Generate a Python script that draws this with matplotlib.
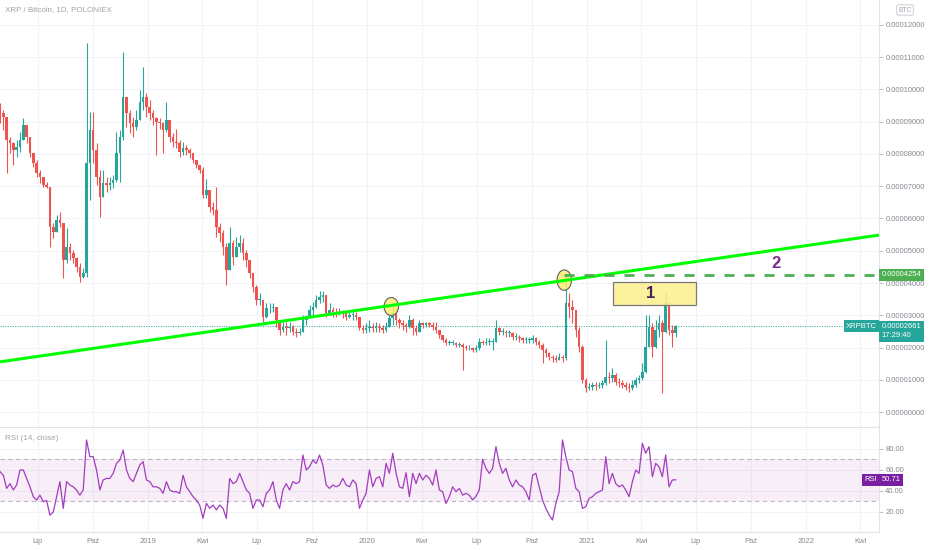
import numpy as np
import pandas as pd
import matplotlib
matplotlib.use('Agg')
import matplotlib.pyplot as plt
import matplotlib.dates as mdates
from matplotlib.patches import Ellipse, Rectangle
from matplotlib.ticker import FuncFormatter

plt.rcParams['font.family'] = ['Liberation Sans', 'DejaVu Sans']

# XRP/BTC, prices in millionths of a BTC, one candle per ~5.5 days
close_u = [
    92.6, 91.6, 84.3, 83.3, 81.2, 82.3, 84.3, 89.0, 85.4, 80.2,
    77.1, 74.0, 73.0, 70.4, 69.9, 57.5, 55.9, 59.5, 58.5, 47.1,
    51.3, 49.2, 47.6, 45.1, 42.0, 43.0, 77.1, 87.4, 81.2, 73.0,
    66.8, 70.9, 70.4, 70.9, 71.9, 80.2, 85.4, 97.8, 92.6, 89.5,
    88.5, 90.5, 96.2, 97.8, 94.7, 92.6, 91.1, 90.0, 89.5, 87.4,
    90.5, 85.4, 83.8, 83.3, 80.7, 81.8, 81.2, 80.2, 78.1, 76.6,
    75.0, 67.3, 68.8, 63.7, 62.6, 57.5, 55.4, 51.3, 44.1, 52.3,
    48.2, 51.3, 52.3, 49.2, 47.1, 43.0, 38.9, 34.7, 34.7, 29.5,
    32.1, 32.1, 32.6, 28.5, 25.4, 26.5, 25.9, 26.5, 24.9, 24.4,
    24.9, 28.5, 29.0, 31.6, 32.7, 34.7, 35.8, 36.3, 30.6, 31.6,
    31.1, 30.6, 31.1, 30.6, 29.6, 30.1, 30.1, 29.6, 25.9, 25.4,
    25.9, 26.5, 25.9, 26.5, 25.9, 25.4, 26.5, 29.0, 30.6, 28.5,
    27.5, 27.0, 26.5, 28.5, 25.9, 24.9, 27.5, 27.0, 27.5, 27.0,
    26.5, 25.4, 23.9, 22.3, 21.3, 21.3, 21.3, 20.8, 20.8, 20.3,
    19.7, 19.7, 19.2, 19.7, 21.8, 21.3, 21.8, 21.8, 21.8, 26.0,
    24.9, 24.9, 24.4, 24.4, 23.4, 23.4, 22.8, 22.3, 22.3, 22.3,
    22.8, 21.8, 20.8, 19.2, 18.2, 17.2, 16.6, 16.1, 17.2, 16.6,
    33.7, 32.7, 31.6, 25.4, 20.3, 9.9, 7.3, 7.8, 8.4, 8.1,
    8.4, 8.9, 11.0, 10.4, 11.5, 9.4, 8.9, 8.4, 7.8, 7.3,
    8.4, 9.9, 10.4, 12.5, 20.3, 26.5, 20.3, 25.4, 27.5, 24.9,
    33.7, 25.4, 24.4, 26.61,
]
high_u = [
    95.7, 93.6, 89.0, 85.4, 83.8, 84.3, 86.9, 91.1, 88.5, 84.3,
    80.2, 78.1, 75.0, 72.5, 71.4, 69.9, 58.5, 61.1, 62.1, 57.5,
    57.0, 52.3, 50.2, 48.2, 46.1, 44.5, 114.3, 93.1, 93.1, 83.3,
    75.0, 75.0, 73.0, 73.0, 73.5, 86.9, 87.4, 111.7, 97.8, 93.6,
    91.6, 93.6, 99.8, 107.1, 98.8, 96.7, 93.6, 91.6, 91.1, 90.0,
    96.2, 88.5, 86.4, 87.9, 84.3, 83.8, 82.8, 81.8, 79.7, 78.1,
    76.6, 76.1, 72.4, 67.8, 65.2, 69.9, 58.5, 56.4, 52.3, 57.5,
    53.3, 54.4, 54.9, 53.9, 50.2, 46.6, 42.0, 39.4, 36.8, 34.7,
    33.7, 33.7, 33.7, 32.6, 28.5, 28.0, 28.0, 28.0, 27.0, 25.9,
    25.9, 30.1, 30.1, 33.2, 34.2, 36.3, 37.6, 37.6, 36.3, 33.7,
    32.7, 32.1, 32.1, 31.6, 31.1, 31.1, 31.1, 31.1, 29.6, 27.0,
    27.5, 28.5, 27.5, 28.0, 27.5, 27.0, 28.0, 30.6, 33.7, 32.1,
    29.0, 28.5, 27.5, 30.1, 29.0, 27.0, 28.5, 28.0, 28.0, 28.0,
    28.0, 28.0, 25.4, 23.9, 22.8, 22.3, 22.3, 21.8, 21.8, 21.3,
    20.8, 20.8, 20.3, 20.8, 22.8, 22.3, 22.8, 22.8, 22.8, 28.5,
    26.5, 26.0, 25.4, 25.4, 24.9, 24.4, 23.9, 23.4, 23.4, 23.4,
    23.9, 23.4, 22.3, 21.3, 19.7, 18.7, 17.7, 17.7, 18.2, 17.7,
    42.5, 36.8, 34.7, 31.6, 26.5, 20.8, 10.4, 8.9, 9.4, 9.4,
    9.4, 9.9, 22.3, 12.5, 13.5, 12.0, 10.4, 9.9, 9.4, 8.9,
    9.9, 11.0, 11.5, 15.1, 30.1, 30.1, 27.5, 28.5, 30.1, 28.5,
    37.3, 31.6, 27.0, 27.0,
]
low_u = [
    89.5, 87.4, 74.0, 80.2, 76.6, 79.2, 80.7, 87.4, 83.3, 79.2,
    76.1, 73.0, 70.9, 69.9, 69.4, 51.3, 53.9, 55.9, 57.5, 41.5,
    46.1, 47.1, 46.1, 43.5, 40.4, 41.5, 42.0, 65.7, 77.1, 70.4,
    60.6, 66.8, 68.3, 68.8, 69.4, 71.4, 71.4, 84.3, 88.5, 86.4,
    85.4, 87.4, 90.5, 93.6, 91.6, 90.5, 89.0, 79.7, 87.9, 80.2,
    86.9, 83.8, 82.3, 81.8, 79.2, 79.7, 79.7, 78.7, 77.1, 75.6,
    74.0, 66.3, 66.3, 62.1, 61.1, 54.4, 52.8, 48.7, 39.4, 46.1,
    45.6, 48.2, 49.7, 47.1, 45.1, 41.5, 37.3, 33.2, 33.2, 28.0,
    29.0, 30.6, 31.1, 26.5, 23.9, 24.9, 23.9, 24.9, 23.9, 23.4,
    23.9, 25.4, 27.0, 29.0, 30.1, 32.1, 33.7, 34.2, 29.6, 30.1,
    29.6, 29.6, 30.1, 29.0, 28.5, 29.0, 28.5, 28.5, 25.4, 24.4,
    24.4, 24.9, 24.9, 24.9, 24.9, 24.4, 24.9, 26.5, 27.0, 27.0,
    25.9, 25.4, 24.9, 25.9, 23.9, 23.9, 24.9, 25.9, 26.5, 26.5,
    25.4, 24.4, 22.8, 21.8, 20.8, 20.8, 20.8, 20.3, 20.3, 13.0,
    19.2, 19.2, 18.7, 18.7, 19.2, 20.8, 20.8, 20.8, 19.2, 22.3,
    23.9, 23.9, 23.4, 23.4, 22.3, 22.3, 21.8, 21.3, 21.3, 21.3,
    21.3, 20.8, 19.7, 15.1, 17.2, 16.1, 15.6, 15.6, 16.1, 15.6,
    16.1, 29.0, 27.5, 23.4, 18.7, 8.9, 6.3, 6.8, 6.8, 6.8,
    7.3, 7.3, 8.4, 8.9, 9.4, 8.4, 7.8, 7.3, 6.8, 6.3,
    6.8, 7.8, 8.9, 9.9, 12.0, 21.3, 17.2, 19.7, 23.4, 5.8,
    24.4, 23.9, 20.3, 23.4,
]
first_open = 94.0

rsi_vals = [
    58.4, 55.0, 42.5, 47.0, 41.0, 45.7, 60.0, 60.0, 52.0, 44.0,
    34.6, 31.4, 36.0, 29.8, 31.0, 17.0, 20.0, 34.6, 48.9, 23.5,
    48.9, 45.7, 44.0, 41.0, 36.0, 41.0, 88.6, 72.7, 72.7, 60.0,
    41.0, 50.5, 52.0, 52.0, 56.8, 66.3, 69.5, 79.0, 60.0, 52.0,
    48.9, 56.8, 64.7, 67.9, 50.5, 48.9, 44.0, 44.0, 42.5, 37.8,
    48.9, 41.0, 39.3, 39.3, 37.8, 55.0, 44.0, 39.3, 34.6, 31.4,
    26.6, 14.0, 28.2, 23.5, 26.6, 21.9, 26.6, 23.5, 14.0, 52.0,
    47.0, 48.9, 56.8, 48.9, 41.0, 37.8, 23.5, 31.4, 31.4, 25.0,
    37.8, 41.0, 48.9, 31.4, 23.5, 41.0, 47.0, 41.0, 48.9, 47.0,
    48.9, 74.3, 60.0, 63.1, 69.5, 66.3, 74.3, 64.7, 45.7, 42.5,
    45.7, 44.0, 45.7, 52.0, 45.7, 44.0, 50.5, 47.0, 23.5, 31.4,
    37.8, 60.0, 44.0, 52.0, 53.6, 44.0, 66.3, 56.8, 75.9, 56.8,
    44.0, 42.5, 57.4, 34.6, 56.8, 47.0, 56.8, 50.5, 55.0, 52.0,
    45.7, 60.0, 41.0, 39.3, 28.2, 34.6, 44.0, 39.3, 42.5, 36.0,
    37.8, 36.0, 31.4, 35.0, 41.0, 70.0, 61.6, 56.8, 61.6, 82.2,
    66.3, 56.8, 61.6, 50.5, 44.0, 50.5, 45.7, 44.0, 39.3, 31.4,
    55.0, 56.8, 44.0, 31.4, 23.5, 17.0, 12.4, 28.2, 39.3, 88.6,
    72.7, 60.0, 58.4, 42.5, 39.3, 23.5, 25.0, 33.0, 34.6, 37.8,
    39.3, 41.0, 72.7, 47.0, 56.8, 47.0, 44.0, 45.7, 41.0, 34.6,
    48.9, 60.0, 56.8, 85.4, 75.9, 82.2, 53.6, 66.3, 63.1, 53.6,
    74.3, 44.0, 50.5, 50.71,
]

last_price = 26.61
last_rsi = 50.71
target_price = 42.54

trend_dates = ['2020-02-09', '2020-11-24']
trend_vals = [33.02, 40.78]
circle_dates = ['2020-02-10', '2020-11-24']
circle_vals = [32.7, 40.9]
box_dates = ['2021-02-13', '2021-07-01']
box_vals = [33.2, 40.4]
label2_date = '2021-11-12'
label2_val = 46.2

tick_dates = ['2018-07-01', '2018-10-01', '2019-01-01', '2019-04-01',
              '2019-07-01', '2019-10-01', '2020-01-01', '2020-04-01',
              '2020-07-01', '2020-10-01', '2021-01-01', '2021-04-01',
              '2021-07-01', '2021-10-01', '2022-01-01', '2022-04-01']
tick_labels = ['Lip', 'Paź', '2019', 'Kwi', 'Lip', 'Paź', '2020', 'Kwi',
               'Lip', 'Paź', '2021', 'Kwi', 'Lip', 'Paź', '2022', 'Kwi']

start = pd.Timestamp('2018-04-29 12:00')
dates = pd.date_range(start, periods=len(close_u), freq='133h')

UP = '#26a69a'
DOWN = '#ef5350'
GRID = '#f0f3fa'
AXC = '#e0e3eb'
TXT = '#868993'
FS = 5.5

W, H = 932, 550
fig = plt.figure(figsize=(W / 100, H / 100), dpi=100)
ax = fig.add_axes([0, 1 - 427 / H, 879 / W, 427 / H])
axr = fig.add_axes([0, 1 - 532 / H, 879 / W, 104 / H], sharex=ax)

x0 = mdates.date2num(start)
x1 = x0 + 1463.5

# candles
x = mdates.date2num(dates)
c = np.array(close_u)
o = np.concatenate([[first_open], c[:-1]])
h = np.maximum.reduce([np.array(high_u), o, c])
l = np.minimum.reduce([np.array(low_u), o, c])
cols = np.where(c >= o, UP, DOWN)
ax.vlines(x, l, h, colors=cols, lw=0.8, zorder=2)
ax.bar(x, np.maximum(np.abs(c - o), 0.3), bottom=np.minimum(o, c), width=4.3,
       color=cols, linewidth=0, zorder=2)

ax.axhline(last_price, color=UP, lw=0.7, ls=(0, (1, 1.5)), zorder=1)

# drawings
tx = mdates.date2num(pd.to_datetime(trend_dates))
slope = (trend_vals[1] - trend_vals[0]) / (tx[1] - tx[0])
ax.plot([x0, x1], [trend_vals[0] + slope * (x0 - tx[0]), trend_vals[0] + slope * (x1 - tx[0])],
        color='#00ff00', lw=2.2, zorder=4, solid_capstyle='butt')
ax.plot([tx[1], x1], [target_price, target_price], color='#4caf50', lw=2,
        dashes=(3.6, 3.6), zorder=4)

cx = mdates.date2num(pd.to_datetime(circle_dates))
for xc, vc, hh in zip(cx, circle_vals, [5.6, 6.3]):
    ax.add_patch(Ellipse((xc, vc), 24, hh, fc=(1, 0.93, 0.42, 0.82), ec='#5f5f5f',
                         lw=0.8, zorder=3))

bx = mdates.date2num(pd.to_datetime(box_dates))
ax.add_patch(Rectangle((bx[0], box_vals[0]), bx[1] - bx[0], box_vals[1] - box_vals[0],
                       fc=(0.99, 0.94, 0.56, 0.88), ec='#7a7a7a', lw=0.9, zorder=5))
ax.text((bx[0] + bx[1]) / 2 - 6, (box_vals[0] + box_vals[1]) / 2, '1', color='#4a1f5e',
        fontsize=12, fontweight='bold', ha='center', va='center', zorder=6)
ax.text(mdates.date2num(pd.Timestamp(label2_date)), label2_val, '2', color='#7b2d8e',
        fontsize=12, fontweight='bold', ha='center', va='center', zorder=6)

# rsi pane
axr.axhspan(30, 70, color='#9c27b0', alpha=0.08, lw=0)
for lvl in (30, 70):
    axr.axhline(lvl, color='#c5b3cc', lw=0.8, ls=(0, (4, 3)))
axr.plot(dates, rsi_vals, color='#a43cbd', lw=0.9, zorder=3)

# axes styling
tks = mdates.date2num(pd.to_datetime(tick_dates))
for a in (ax, axr):
    a.set_facecolor('white')
    for s in ('top', 'left'):
        a.spines[s].set_visible(False)
    a.spines['right'].set_color(AXC)
    a.spines['bottom'].set_color(AXC)
    a.spines['right'].set_linewidth(0.8)
    a.spines['bottom'].set_linewidth(0.8)
    a.yaxis.tick_right()
    a.tick_params(axis='y', length=3, width=0.6, color='#b2b5be', labelsize=FS,
                  labelcolor=TXT, pad=1.5)
    a.set_xticks(tks)
    for t in tks:
        a.axvline(t, color=GRID, lw=0.8, zorder=0)
    a.set_axisbelow(True)

ax.set_xlim(x0, x1)
ax.set_ylim(-4.65, 127.75)
ax.set_yticks(np.arange(0, 121, 10))
ax.yaxis.set_major_formatter(FuncFormatter(lambda v, p: f'{v / 1e6:.8f}'))
ax.grid(axis='y', color=GRID, lw=0.8)
ax.tick_params(axis='x', length=0, labelbottom=False)

axr.set_ylim(0.95, 100)
axr.set_yticks([20, 40, 60, 80])
axr.yaxis.set_major_formatter(FuncFormatter(lambda v, p: f'{v:.2f}'))
axr.grid(axis='y', color=GRID, lw=0.8)
axr.set_xticklabels(tick_labels)
axr.tick_params(axis='x', length=0, labelsize=FS, labelcolor=TXT, pad=4)

# right-side price labels
ytr = ax.get_yaxis_transform()
ax.text(1.003, target_price, f'{target_price / 1e6:.8f}', transform=ytr, ha='left',
        va='center', fontsize=FS, color='white', clip_on=False, zorder=10,
        bbox=dict(boxstyle='square,pad=0.35', fc='#4caf50', ec='none'))
ax.text(1.003, last_price - 1.55, f'{last_price / 1e6:.8f}\n17:29:40', transform=ytr,
        ha='left', va='center', fontsize=FS, color='white', clip_on=False, zorder=10,
        linespacing=1.3, bbox=dict(boxstyle='square,pad=0.35', fc=UP, ec='none'))
ax.text(0.9975, last_price, 'XRPBTC', transform=ytr, ha='right', va='center',
        fontsize=FS, color='white', clip_on=False, zorder=10,
        bbox=dict(boxstyle='square,pad=0.3', fc=UP, ec='none'))

rtr = axr.get_yaxis_transform()
axr.text(1.003, last_rsi, f'{last_rsi:.2f}', transform=rtr, ha='left', va='center',
         fontsize=FS, color='white', clip_on=False, zorder=10,
         bbox=dict(boxstyle='square,pad=0.35', fc='#7b1fa2', ec='none'))
axr.text(0.9975, last_rsi, 'RSI', transform=rtr, ha='right', va='center',
         fontsize=FS, color='white', clip_on=False, zorder=10,
         bbox=dict(boxstyle='square,pad=0.3', fc='#7b1fa2', ec='none'))

fig.text(5 / W, 1 - 10 / H, 'XRP / Bitcoin, 1D, POLONIEX', fontsize=FS + 0.3,
         color='#a0a3ab', va='center')
fig.text(5 / W, 1 - 439 / H, 'RSI (14, close)', fontsize=FS + 0.3, color='#a0a3ab',
         va='center')
fig.text(905 / W, 1 - 10 / H, 'BTC', fontsize=FS - 0.7, color='#a0a3ab', ha='center',
         va='center', bbox=dict(boxstyle='round,pad=0.25', fc='white', ec='#c3c6ce', lw=0.6))

fig.savefig('out.png', dpi=100, facecolor='white')
